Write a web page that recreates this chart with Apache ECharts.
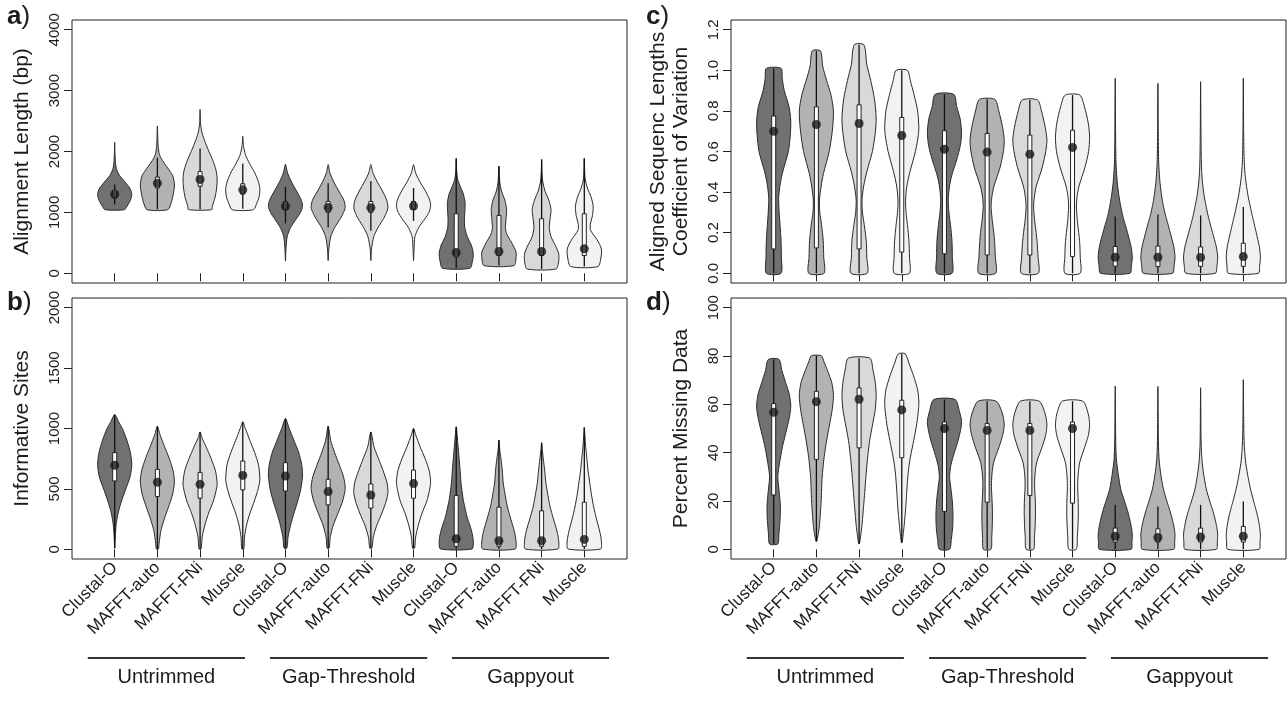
<!DOCTYPE html>
<html><head><meta charset="utf-8">
<script src="https://cdn.jsdelivr.net/npm/echarts@6/dist/echarts.min.js"></script>
<style>html,body{margin:0;padding:0;background:#fff}#c{width:1288px;height:701px}</style>
</head><body><div id="c"></div>
<script>
// ---------- data ----------
const categories = ['Clustal-O','MAFFT-auto','MAFFT-FNi','Muscle','Clustal-O','MAFFT-auto','MAFFT-FNi','Muscle','Clustal-O','MAFFT-auto','MAFFT-FNi','Muscle'];
const groups = ['Untrimmed','Gap-Threshold','Gappyout'];
// start / end of each group underline, in category units
const groupSpans = [[0.37,4.05],[4.64,8.32],[8.9,12.58]];

const lenTicks = [0,1000,2000,3000,4000];
const infTicks = [0,500,1000,1500,2000];
const cvTicks = [0,0.2,0.4,0.6,0.8,1.0,1.2];
const pmdTicks = [0,20,40,60,80,100];

// violin outlines: [value, relative half-width], bottom to top
const lenShapes = [
 [[1044,0.57],[1100,0.72],[1200,0.92],[1300,1.0],[1400,0.88],[1500,0.6],[1600,0.3],[1700,0.12],[1800,0.05],[1950,0.02],[2150,0]],
 [[1044,0.6],[1150,0.8],[1300,0.93],[1450,1.0],[1600,0.9],[1750,0.55],[1850,0.3],[1950,0.12],[2100,0.04],[2250,0.02],[2420,0]],
 [[1044,0.68],[1100,0.72],[1250,0.88],[1400,0.97],[1550,1.0],[1700,0.93],[1850,0.75],[2000,0.52],[2150,0.3],[2300,0.12],[2450,0.03],[2690,0]],
 [[1044,0.62],[1150,0.82],[1250,0.95],[1380,1.0],[1500,0.92],[1650,0.7],[1800,0.4],[1950,0.15],[2100,0.04],[2250,0]],
 [[200,0],[400,0.03],[600,0.1],[750,0.3],[900,0.65],[1000,0.88],[1100,1.0],[1200,0.93],[1350,0.65],[1500,0.35],[1650,0.12],[1790,0]],
 [[209,0],[400,0.04],[600,0.15],[750,0.38],[900,0.72],[1000,0.9],[1080,1.0],[1200,0.92],[1350,0.62],[1500,0.33],[1650,0.1],[1786,0]],
 [[209,0],[400,0.04],[600,0.17],[750,0.42],[900,0.75],[1000,0.92],[1080,1.0],[1200,0.93],[1350,0.68],[1500,0.38],[1650,0.12],[1786,0]],
 [[209,0],[400,0.03],[600,0.08],[750,0.3],[900,0.68],[1000,0.9],[1100,1.0],[1200,0.95],[1350,0.7],[1500,0.38],[1650,0.12],[1786,0]],
 [[82,0.8],[200,0.95],[320,1.0],[450,0.9],[600,0.65],[750,0.5],[870,0.48],[1000,0.5],[1150,0.52],[1300,0.42],[1450,0.2],[1550,0.08],[1700,0.02],[1885,0]],
 [[126,0.88],[250,1.0],[350,1.0],[500,0.75],[650,0.45],[750,0.38],[900,0.42],[1050,0.45],[1200,0.35],[1350,0.15],[1500,0.05],[1758,0]],
 [[71,0.85],[200,1.0],[320,1.0],[450,0.82],[600,0.55],[750,0.45],[900,0.5],[1050,0.55],[1200,0.42],[1350,0.2],[1500,0.07],[1650,0.02],[1868,0]],
 [[110,0.8],[250,0.97],[400,1.0],[550,0.75],[700,0.38],[800,0.35],[950,0.48],[1100,0.52],[1250,0.4],[1400,0.18],[1550,0.05],[1700,0.02],[1885,0]]
];
// [whisker low, Q1, median, Q3, whisker high]
const lenStats = [
 [1130,1240,1295,1370,1460],[1050,1400,1480,1580,1900],[1050,1430,1540,1670,2050],[1060,1300,1370,1470,1800],
 [820,1050,1100,1180,1420],[750,1000,1080,1180,1480],[700,1000,1077,1180,1510],[860,1050,1104,1180,1400],
 [82,264,340,978,1885],[126,291,357,950,1758],[71,291,357,896,1868],[110,291,401,978,1885]
];

const infShapes = [
 [[10,0],[100,0.03],[200,0.08],[300,0.2],[400,0.4],[500,0.65],[600,0.9],[700,1.0],[800,0.92],[900,0.72],[1000,0.45],[1050,0.25],[1115,0]],
 [[3,0.06],[50,0.1],[150,0.2],[250,0.4],[350,0.65],[450,0.88],[560,1.0],[650,0.92],[750,0.7],[850,0.42],[950,0.15],[1019,0]],
 [[3,0.06],[100,0.12],[200,0.28],[300,0.5],[400,0.78],[500,0.96],[550,1.0],[650,0.9],[750,0.65],[850,0.35],[920,0.12],[972,0]],
 [[3,0.06],[100,0.1],[200,0.22],[300,0.42],[400,0.68],[500,0.9],[580,1.0],[700,0.92],[800,0.7],[900,0.42],[1000,0.15],[1055,0]],
 [[10,0.08],[100,0.15],[200,0.3],[300,0.5],[400,0.72],[500,0.9],[615,1.0],[700,0.95],[800,0.78],[900,0.5],[1000,0.22],[1082,0]],
 [[10,0.06],[100,0.12],[200,0.3],[300,0.58],[400,0.85],[505,1.0],[600,0.9],[700,0.65],[800,0.38],[900,0.15],[1019,0]],
 [[10,0.06],[100,0.14],[200,0.35],[300,0.65],[400,0.9],[470,1.0],[550,0.95],[650,0.72],[750,0.45],[850,0.18],[972,0]],
 [[10,0.06],[100,0.12],[200,0.28],[300,0.5],[400,0.78],[500,0.95],[560,1.0],[650,0.92],[750,0.68],[850,0.38],[950,0.12],[1000,0]],
 [[3,0.92],[60,1.0],[120,0.95],[200,0.8],[260,0.65],[350,0.5],[420,0.4],[550,0.28],[670,0.22],[800,0.14],[900,0.08],[1014,0]],
 [[3,0.95],[70,1.0],[150,0.9],[258,0.68],[350,0.5],[423,0.4],[550,0.25],[650,0.2],[750,0.12],[820,0.05],[904,0]],
 [[3,0.95],[70,1.0],[150,0.9],[258,0.68],[350,0.5],[423,0.4],[550,0.25],[650,0.18],[750,0.1],[820,0.04],[882,0]],
 [[3,0.95],[70,1.0],[150,0.9],[258,0.7],[350,0.55],[450,0.42],[550,0.32],[650,0.22],[750,0.15],[850,0.08],[950,0.03],[1008,0]]
];
const infStats = [
 [10,566,695,800,1115],[3,437,555,662,1019],[3,423,538,637,972],[3,492,612,731,1055],
 [10,483,607,717,1082],[10,368,478,580,1019],[10,341,450,541,972],[10,423,544,656,1000],
 [3,25,88,445,1014],[3,25,71,349,904],[3,25,71,319,882],[3,25,82,390,1008]
];

const cvShapes = [
 [[0,0.43],[0.08,0.45],[0.16,0.43],[0.24,0.37],[0.3,0.32],[0.37,0.29],[0.44,0.38],[0.5,0.53],[0.6,0.86],[0.68,0.97],[0.75,1.0],[0.82,0.9],[0.9,0.62],[0.96,0.5],[1.01,0.43]],
 [[0,0.45],[0.08,0.43],[0.16,0.4],[0.24,0.3],[0.3,0.2],[0.36,0.18],[0.43,0.28],[0.49,0.41],[0.6,0.75],[0.7,0.93],[0.8,1.0],[0.88,0.85],[0.95,0.6],[1.02,0.37],[1.096,0.24]],
 [[0,0.48],[0.08,0.45],[0.16,0.42],[0.24,0.3],[0.3,0.2],[0.36,0.17],[0.43,0.27],[0.5,0.45],[0.6,0.78],[0.7,0.96],[0.77,1.0],[0.86,0.9],[0.95,0.68],[1.03,0.45],[1.126,0.28]],
 [[0,0.45],[0.08,0.45],[0.16,0.42],[0.24,0.33],[0.3,0.25],[0.36,0.22],[0.43,0.3],[0.5,0.48],[0.6,0.8],[0.68,0.97],[0.72,1.0],[0.8,0.93],[0.88,0.72],[0.95,0.5],[1.0,0.33]],
 [[0,0.45],[0.08,0.46],[0.16,0.44],[0.24,0.35],[0.3,0.26],[0.36,0.22],[0.42,0.28],[0.48,0.42],[0.56,0.72],[0.63,0.93],[0.69,1.0],[0.76,0.92],[0.82,0.72],[0.882,0.54]],
 [[0,0.5],[0.08,0.48],[0.15,0.44],[0.2,0.39],[0.26,0.3],[0.33,0.23],[0.38,0.28],[0.43,0.4],[0.52,0.75],[0.6,0.95],[0.656,1.0],[0.72,0.9],[0.8,0.68],[0.857,0.45]],
 [[0,0.5],[0.08,0.48],[0.15,0.43],[0.2,0.37],[0.26,0.28],[0.33,0.22],[0.38,0.27],[0.43,0.38],[0.52,0.72],[0.6,0.93],[0.656,1.0],[0.72,0.9],[0.8,0.68],[0.854,0.45]],
 [[0,0.45],[0.08,0.45],[0.15,0.42],[0.2,0.36],[0.26,0.28],[0.33,0.23],[0.38,0.27],[0.43,0.38],[0.52,0.72],[0.6,0.94],[0.67,1.0],[0.74,0.92],[0.82,0.7],[0.878,0.43]],
 [[0,0.86],[0.04,0.95],[0.08,1.0],[0.13,0.93],[0.2,0.72],[0.25,0.55],[0.29,0.42],[0.34,0.3],[0.38,0.22],[0.44,0.13],[0.49,0.08],[0.56,0.04],[0.7,0.02],[0.961,0]],
 [[0,0.86],[0.04,0.95],[0.08,1.0],[0.13,0.93],[0.2,0.72],[0.25,0.56],[0.29,0.43],[0.34,0.3],[0.38,0.22],[0.44,0.13],[0.49,0.08],[0.56,0.04],[0.7,0.02],[0.936,0]],
 [[0,0.86],[0.04,0.96],[0.08,1.0],[0.13,0.92],[0.2,0.7],[0.25,0.54],[0.29,0.42],[0.34,0.3],[0.38,0.21],[0.44,0.12],[0.49,0.07],[0.56,0.04],[0.7,0.02],[0.944,0]],
 [[0,0.88],[0.04,0.96],[0.08,1.0],[0.13,0.94],[0.2,0.76],[0.25,0.62],[0.3,0.48],[0.34,0.38],[0.38,0.28],[0.44,0.17],[0.49,0.1],[0.56,0.05],[0.7,0.02],[0.961,0]]
];
const cvStats = [
 [0,0.12,0.70,0.775,1.01],[0,0.125,0.733,0.82,1.096],[0,0.12,0.738,0.83,1.126],[0,0.104,0.679,0.768,1.0],
 [0,0.096,0.611,0.702,0.882],[0,0.09,0.597,0.689,0.857],[0,0.09,0.587,0.681,0.854],[0,0.082,0.62,0.705,0.878],
 [0,0.035,0.079,0.132,0.28],[0,0.033,0.079,0.134,0.29],[0,0.034,0.078,0.13,0.285],[0,0.034,0.082,0.148,0.326]
];

const pmdShapes = [
 [[2.2,0.24],[6,0.3],[12,0.37],[18,0.39],[24,0.32],[30,0.24],[36,0.35],[42,0.5],[48,0.7],[54,0.9],[59,1.0],[64,0.92],[69,0.7],[74,0.48],[78.6,0.31]],
 [[3.3,0.02],[6,0.1],[10,0.18],[20,0.28],[30,0.34],[38,0.45],[45,0.6],[52,0.78],[58,0.93],[63.7,1.0],[69,0.9],[74,0.65],[77.5,0.45],[80.1,0.29]],
 [[2.3,0.02],[6,0.1],[10,0.17],[20,0.29],[30,0.4],[38,0.5],[45,0.62],[52,0.8],[58,0.95],[63.7,1.0],[69,0.95],[74,0.82],[79.1,0.63]],
 [[2.8,0.02],[6,0.08],[10,0.14],[18,0.24],[24,0.29],[32,0.38],[38,0.5],[45,0.7],[52,0.88],[58,0.98],[61,1.0],[66,0.93],[72,0.68],[77,0.42],[80.9,0.2]],
 [[0,0.3],[4,0.4],[9,0.48],[14,0.5],[20,0.46],[25,0.38],[30,0.3],[35,0.38],[40,0.58],[45,0.8],[50,0.96],[53,1.0],[57,0.88],[62,0.62]],
 [[0,0.22],[5,0.27],[10,0.3],[15,0.31],[20,0.29],[26,0.25],[31,0.28],[36,0.38],[42,0.68],[47,0.9],[51.4,1.0],[56,0.9],[61.3,0.53]],
 [[0,0.22],[5,0.27],[10,0.31],[15,0.33],[20,0.32],[26,0.28],[31,0.3],[36,0.4],[42,0.7],[47,0.92],[51.4,1.0],[56,0.9],[61.3,0.55]],
 [[0,0.22],[5,0.28],[10,0.32],[15,0.34],[20,0.33],[26,0.3],[31,0.33],[36,0.42],[42,0.7],[47,0.92],[51.4,1.0],[56,0.92],[61.3,0.6]],
 [[0,0.93],[3,0.98],[6,1.0],[9,0.95],[13,0.83],[17,0.68],[20,0.54],[25,0.32],[31,0.18],[37,0.07],[44,0.03],[55,0.015],[67.6,0]],
 [[0,0.92],[3,0.98],[6,1.0],[9,0.95],[13,0.82],[17,0.66],[20,0.52],[25,0.32],[31,0.17],[37,0.07],[44,0.03],[55,0.015],[67.4,0]],
 [[0,0.92],[3,0.98],[6,1.0],[9,0.95],[13,0.83],[17,0.67],[20,0.53],[25,0.33],[31,0.18],[37,0.08],[44,0.03],[55,0.015],[66.9,0]],
 [[0,0.92],[3,0.98],[6,1.0],[9,0.96],[13,0.86],[17,0.72],[20,0.6],[25,0.42],[31,0.25],[37,0.12],[44,0.05],[55,0.02],[70.2,0]]
];
const pmdStats = [
 [2.2,22.5,56.7,60.3,78.6],[3.3,37.2,61.1,65.4,80.1],[2.3,42.0,62.1,66.8,79.1],[2.8,37.9,57.7,61.7,80.9],
 [0,15.7,50.0,52.7,62.0],[0,19.5,49.2,52.1,61.3],[0,22.3,49.2,52.1,61.3],[0,19.1,50.0,52.7,61.3],
 [0,3.0,5.4,8.8,18.4],[0,3.0,4.9,8.5,17.7],[0,3.0,5.1,8.8,18.4],[0,3.0,5.4,9.5,19.8]
];

// ---------- styling ----------
const FONT = 'Liberation Sans, Arial, Helvetica, sans-serif';
const INK = '#1c1c1c';
const fills = ['#717173','#b1b2b4','#d8d9db','#f2f2f3'];
const HALF_MAX = 0.4; // max violin half-width in category units

const panels = [
  {tag:'a', grid:{left:72, top:20, width:555, height:263}, yMin:-160, yMax:4160, ticks:lenTicks, name:'Alignment Length (bp)', shapes:lenShapes, stats:lenStats, labels:false, fmt:v=>String(v)},
  {tag:'b', grid:{left:72, top:298, width:555, height:261}, yMin:-80, yMax:2080, ticks:infTicks, name:'Informative Sites', shapes:infShapes, stats:infStats, labels:true, fmt:v=>String(v)},
  {tag:'c', grid:{left:731, top:20, width:555, height:263}, yMin:-0.048, yMax:1.248, ticks:cvTicks, name:'Aligned Sequenc Lengths\nCoefficient of Variation', shapes:cvShapes, stats:cvStats, labels:false, fmt:v=>v.toFixed(1)},
  {tag:'d', grid:{left:731, top:298, width:555, height:261}, yMin:-4, yMax:104, ticks:pmdTicks, name:'Percent Missing Data', shapes:pmdShapes, stats:pmdStats, labels:true, fmt:v=>String(v)}
];
const xPos = categories.map((_, i) => i + 1);

function violinRender(shapes) {
  return function (params, api) {
    const i = params.dataIndex;
    const x = api.value(0);
    const hw = api.size([1, 0])[0] * HALF_MAX;
    const right = [], left = [];
    shapes[i].forEach(([v, w]) => {
      const p = api.coord([x, v]);
      right.push([p[0] + w * hw, p[1]]);
      left.push([p[0] - w * hw, p[1]]);
    });
    left.reverse();
    const pts = right.slice();
    left.forEach((p, k) => {
      const last = pts[pts.length - 1];
      if (k === 0 && Math.abs(p[0] - last[0]) < 0.01) return;
      if (k === left.length - 1 && Math.abs(p[0] - pts[0][0]) < 0.01) return;
      pts.push(p);
    });
    return {type:'polygon', shape:{points:pts, smooth:0.25}, style:{fill:fills[i % 4], stroke:'#2a2a2a', lineWidth:1}};
  };
}
function boxRender(stats) {
  return function (params, api) {
    const i = params.dataIndex;
    const x = api.value(0);
    const [lo, q1, , q3, hi] = stats[i];
    const pLo = api.coord([x, lo]), pHi = api.coord([x, hi]);
    const p1 = api.coord([x, q1]), p3 = api.coord([x, q3]);
    return {type:'group', children:[
      {type:'line', shape:{x1:pLo[0], y1:pLo[1], x2:pHi[0], y2:pHi[1]}, style:{stroke:'#111', lineWidth:1.3}},
      {type:'rect', shape:{x:p1[0] - 2, y:p3[1], width:4, height:Math.max(1, p1[1] - p3[1])}, style:{fill:'#fff', stroke:'#222', lineWidth:1}}
    ]};
  };
}
function groupRender(params, api) {
  const i = params.dataIndex;
  const cs = params.coordSys;
  const a = api.coord([groupSpans[i][0], 0]), b = api.coord([groupSpans[i][1], 0]);
  const y = cs.y + cs.height + 99;
  return {type:'group', children:[
    {type:'line', shape:{x1:a[0], y1:y, x2:b[0], y2:y}, style:{stroke:'#333', lineWidth:2}},
    {type:'text', x:(a[0] + b[0]) / 2, y:y + 19, style:{text:groups[i], fontSize:20, fontFamily:FONT, fill:INK, align:'center', verticalAlign:'middle'}}
  ]};
}

const option = {
  animation:false,
  backgroundColor:'#fff',
  title: panels.map((p, k) => ({
    text:'{b|' + p.tag + '})', left:(k < 2 ? 7 : 646), top:(k % 2 === 0 ? 4 : 290), padding:0,
    textStyle:{fontSize:26, fontWeight:'normal', fontFamily:FONT, color:INK, rich:{b:{fontSize:26, fontWeight:'bold', fontFamily:FONT, color:INK}}}
  })),
  grid: panels.map(p => Object.assign({show:true, borderColor:'#222', borderWidth:1, backgroundColor:'transparent'}, p.grid)),
  xAxis: panels.map((p, k) => ({
    type:'value', gridIndex:k, min:0, max:13,
    axisLine:{show:false}, splitLine:{show:false},
    axisTick:{show:true, customValues:xPos, length:8, lineStyle:{color:'#222'}},
    axisLabel:{show:p.labels, customValues:xPos, rotate:45, fontSize:17, fontFamily:FONT, color:INK, margin:6,
      formatter:v => categories[Math.round(v) - 1] || ''}
  })),
  yAxis: panels.map((p, k) => ({
    type:'value', gridIndex:k, min:p.yMin, max:p.yMax,
    axisLine:{show:false}, splitLine:{show:false},
    axisTick:{show:true, customValues:p.ticks, length:8, lineStyle:{color:'#222'}},
    axisLabel:{customValues:p.ticks, rotate:90, fontSize:15, fontFamily:FONT, color:INK, margin:10, formatter:p.fmt},
    name:p.name, nameLocation:'middle', nameGap:38,
    nameTextStyle:{fontSize:21, fontFamily:FONT, color:INK, lineHeight:23}
  })),
  series: []
};

panels.forEach((p, k) => {
  const pts = p.stats.map((s, i) => [xPos[i], s[2]]);
  option.series.push({type:'custom', xAxisIndex:k, yAxisIndex:k, z:2, silent:true, renderItem:violinRender(p.shapes), data:pts});
  option.series.push({type:'custom', xAxisIndex:k, yAxisIndex:k, z:3, silent:true, renderItem:boxRender(p.stats), data:pts});
  option.series.push({type:'scatter', xAxisIndex:k, yAxisIndex:k, z:4, silent:true, symbol:'circle', symbolSize:9,
    itemStyle:{color:'#151515'}, data:pts});
  if (p.labels) {
    option.series.push({type:'custom', xAxisIndex:k, yAxisIndex:k, z:5, silent:true, clip:false,
      renderItem:groupRender, data:groups.map((g, i) => [groupSpans[i][0], 0])});
  }
});

const chart = echarts.init(document.getElementById('c'), null, {renderer:'canvas'});
chart.setOption(option);
</script></body></html>
